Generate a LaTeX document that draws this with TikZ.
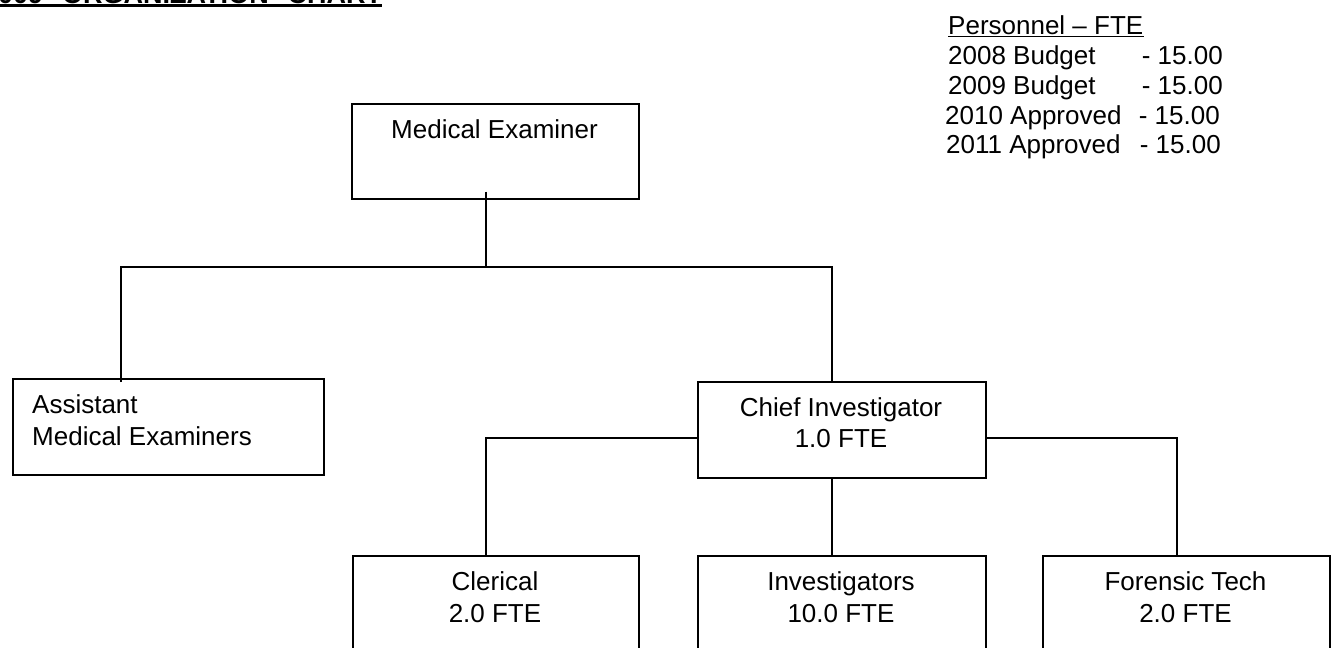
\documentclass[tikz,border=0pt]{standalone}
\usepackage{fontspec}
\setmainfont{Liberation Sans}
\begin{document}
\begin{tikzpicture}[x=1pt, y=-1pt,
  box/.style={draw, line width=1.6pt, inner sep=0pt, anchor=north west},
  lbl/.style={inner sep=0pt, anchor=base, font=\fontsize{26}{31}\selectfont},
  lbll/.style={lbl, anchor=base west},
  lblr/.style={lbl, anchor=base east},
  link/.style={line width=1.6pt},
]
\useasboundingbox (0,0) rectangle (1331,648);

% heading, partly above the page edge
\node[inner sep=0pt, anchor=base west, font=\fontsize{27}{32}\selectfont\bfseries]
  (title) at (-17,3.3) {2009\hspace{19pt}ORGANIZATION\hspace{19pt}CHART};
\draw[line width=2.7pt] ([yshift=-2.2pt]title.base west) -- ([yshift=-2.2pt]title.base east);

% staffing summary
\node[lbll] (phead) at (948,34) {Personnel – FTE};
\draw[line width=1.4pt] ([yshift=-2.6pt]phead.base west) -- ([yshift=-2.6pt]phead.base east);
\node[lbll] (p1) at (948,64) {2008 Budget};
\node[lblr] (v1) at (1223,64) {- 15.00};
\node[lbll] (p2) at (948,94) {2009 Budget};
\node[lblr] (v2) at (1223,94) {- 15.00};
\node[lbll] (p3) at (945,124) {2010 Approved};
\node[lblr] (v3) at (1220,124) {- 15.00};
\node[lbll] (p4) at (946,153) {2011 Approved};
\node[lblr] (v4) at (1221,153) {- 15.00};

% boxes
\node[box, minimum width=287pt, minimum height=95pt] (me) at (351,103) {};
\node[box, minimum width=311pt, minimum height=96pt] (asst) at (12,378) {};
\node[box, minimum width=288pt, minimum height=96pt] (chief) at (697,381) {};
\node[box, minimum width=286pt, minimum height=140pt] (cler) at (352,555) {};
\node[box, minimum width=288pt, minimum height=140pt] (inv) at (697,555) {};
\node[box, minimum width=287pt, minimum height=140pt] (fore) at (1042,555) {};

% box texts
\node[lbl] (meT) at (494.5,138) {Medical Examiner};
\node[lbll] (asstA) at (32,413) {Assistant};
\node[lbll] (asstB) at (32,445) {Medical Examiners};
\node[lbl] (chiefA) at (841,416) {Chief Investigator};
\node[lbl] (chiefB) at (841,447) {1.0 FTE};
\node[lbl] (clerA) at (495,590) {Clerical};
\node[lbl] (clerB) at (495,622) {2.0 FTE};
\node[lbl] (invA) at (841,590) {Investigators};
\node[lbl] (invB) at (841,622) {10.0 FTE};
\node[lbl] (foreA) at (1185.5,590) {Forensic Tech};
\node[lbl] (foreB) at (1185.5,622) {2.0 FTE};

% connector junctions
\coordinate (bus) at (486,267);
\coordinate (la) at (121,267);
\coordinate (rc) at (832,267);
\coordinate (cl) at (486,438);
\coordinate (cr) at (1177,438);

% connectors
\draw[link] ([yshift=8pt]me.south -| bus) -- (bus);
\draw[link] ([yshift=-4pt]asst.north -| la) -- (la) -- (rc) -- (chief.north -| rc);
\draw[link] (chief.west |- cl) -- (cl) -- (cler.north -| cl);
\draw[link] (chief.east |- cr) -- (cr) -- (fore.north -| cr);
\draw[link] (chief.south -| rc) -- (inv.north -| rc);
\end{tikzpicture}
\end{document}
